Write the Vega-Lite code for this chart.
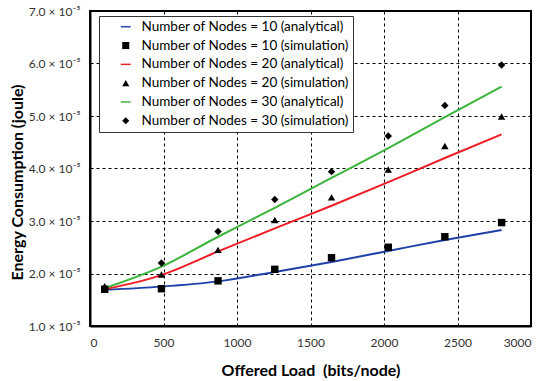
{
  "$schema": "https://vega.github.io/schema/vega-lite/v6.json",
  "autosize": {"type": "none"},
  "width": 441,
  "height": 315,
  "padding": {"left": 90, "top": 11, "right": 19, "bottom": 55},
  "background": "white",
  "config": {
    "font": "Lato",
    "view": {"stroke": "black", "strokeWidth": 2},
    "legend": {"title": null},
    "axis": {
      "domainColor": "black", "domainWidth": 2,
      "grid": true, "gridColor": "black", "gridDash": [3, 3], "gridWidth": 1, "gridOpacity": 1,
      "ticks": false,
      "labelFont": "Lato", "labelFontSize": 12, "labelColor": "#333333",
      "titleFont": "Lato", "titleFontSize": 16, "titleFontWeight": "bold", "titleColor": "black"
    }
  },
  "datasets": {
    "sim": [
      {"load": 100, "energy": 1.70e-5, "series": "Number of Nodes = 10 (simulation)"},
      {"load": 486, "energy": 1.71e-5, "series": "Number of Nodes = 10 (simulation)"},
      {"load": 871, "energy": 1.86e-5, "series": "Number of Nodes = 10 (simulation)"},
      {"load": 1257, "energy": 2.08e-5, "series": "Number of Nodes = 10 (simulation)"},
      {"load": 1643, "energy": 2.30e-5, "series": "Number of Nodes = 10 (simulation)"},
      {"load": 2029, "energy": 2.50e-5, "series": "Number of Nodes = 10 (simulation)"},
      {"load": 2414, "energy": 2.70e-5, "series": "Number of Nodes = 10 (simulation)"},
      {"load": 2800, "energy": 2.97e-5, "series": "Number of Nodes = 10 (simulation)"},
      {"load": 100, "energy": 1.76e-5, "series": "Number of Nodes = 20 (simulation)"},
      {"load": 486, "energy": 1.98e-5, "series": "Number of Nodes = 20 (simulation)"},
      {"load": 871, "energy": 2.45e-5, "series": "Number of Nodes = 20 (simulation)"},
      {"load": 1257, "energy": 3.02e-5, "series": "Number of Nodes = 20 (simulation)"},
      {"load": 1643, "energy": 3.45e-5, "series": "Number of Nodes = 20 (simulation)"},
      {"load": 2029, "energy": 3.98e-5, "series": "Number of Nodes = 20 (simulation)"},
      {"load": 2414, "energy": 4.43e-5, "series": "Number of Nodes = 20 (simulation)"},
      {"load": 2800, "energy": 4.99e-5, "series": "Number of Nodes = 20 (simulation)"},
      {"load": 100, "energy": 1.72e-5, "series": "Number of Nodes = 30 (simulation)"},
      {"load": 486, "energy": 2.20e-5, "series": "Number of Nodes = 30 (simulation)"},
      {"load": 871, "energy": 2.80e-5, "series": "Number of Nodes = 30 (simulation)"},
      {"load": 1257, "energy": 3.41e-5, "series": "Number of Nodes = 30 (simulation)"},
      {"load": 1643, "energy": 3.94e-5, "series": "Number of Nodes = 30 (simulation)"},
      {"load": 2029, "energy": 4.62e-5, "series": "Number of Nodes = 30 (simulation)"},
      {"load": 2414, "energy": 5.20e-5, "series": "Number of Nodes = 30 (simulation)"},
      {"load": 2800, "energy": 5.97e-5, "series": "Number of Nodes = 30 (simulation)"}
    ],
    "ana": [
      {"load": 100, "energy": 1.69e-5, "series": "Number of Nodes = 10 (analytical)"},
      {"load": 486, "energy": 1.75e-5, "series": "Number of Nodes = 10 (analytical)"},
      {"load": 871, "energy": 1.85e-5, "series": "Number of Nodes = 10 (analytical)"},
      {"load": 1257, "energy": 2.03e-5, "series": "Number of Nodes = 10 (analytical)"},
      {"load": 1643, "energy": 2.22e-5, "series": "Number of Nodes = 10 (analytical)"},
      {"load": 2029, "energy": 2.43e-5, "series": "Number of Nodes = 10 (analytical)"},
      {"load": 2414, "energy": 2.64e-5, "series": "Number of Nodes = 10 (analytical)"},
      {"load": 2800, "energy": 2.83e-5, "series": "Number of Nodes = 10 (analytical)"},
      {"load": 100, "energy": 1.70e-5, "series": "Number of Nodes = 20 (analytical)"},
      {"load": 486, "energy": 1.97e-5, "series": "Number of Nodes = 20 (analytical)"},
      {"load": 871, "energy": 2.42e-5, "series": "Number of Nodes = 20 (analytical)"},
      {"load": 1257, "energy": 2.86e-5, "series": "Number of Nodes = 20 (analytical)"},
      {"load": 1643, "energy": 3.29e-5, "series": "Number of Nodes = 20 (analytical)"},
      {"load": 2029, "energy": 3.74e-5, "series": "Number of Nodes = 20 (analytical)"},
      {"load": 2414, "energy": 4.20e-5, "series": "Number of Nodes = 20 (analytical)"},
      {"load": 2800, "energy": 4.65e-5, "series": "Number of Nodes = 20 (analytical)"},
      {"load": 100, "energy": 1.72e-5, "series": "Number of Nodes = 30 (analytical)"},
      {"load": 486, "energy": 2.13e-5, "series": "Number of Nodes = 30 (analytical)"},
      {"load": 871, "energy": 2.70e-5, "series": "Number of Nodes = 30 (analytical)"},
      {"load": 1257, "energy": 3.25e-5, "series": "Number of Nodes = 30 (analytical)"},
      {"load": 1643, "energy": 3.82e-5, "series": "Number of Nodes = 30 (analytical)"},
      {"load": 2029, "energy": 4.39e-5, "series": "Number of Nodes = 30 (analytical)"},
      {"load": 2414, "energy": 4.98e-5, "series": "Number of Nodes = 30 (analytical)"},
      {"load": 2800, "energy": 5.56e-5, "series": "Number of Nodes = 30 (analytical)"}
    ]
  },
  "encoding": {
    "x": {
      "field": "load", "type": "quantitative",
      "scale": {"domain": [0, 3000], "nice": false},
      "axis": {"values": [0, 500, 1000, 1500, 2000, 2500, 3000], "title": "Offered Load \u00a0(bits/node)", "labelPadding": 11, "titlePadding": 14, "format": "d"}
    },
    "y": {
      "field": "energy", "type": "quantitative",
      "scale": {"domain": [1e-5, 7e-5], "nice": false, "zero": false},
      "axis": {
        "values": [1e-5, 2e-5, 3e-5, 4e-5, 5e-5, 6e-5, 7e-5],
        "labelExpr": "format(datum.value * 1e5, '.1f') + ' \u00d7 10\u207b\u2075'",
        "title": "Energy Consumption (joule)",
        "labelPadding": 10,
        "titleX": -73, "titleY": 171, "titleAlign": "center", "titleBaseline": "middle", "titleAngle": -90
      }
    },
    "color": {
      "field": "series", "type": "nominal",
      "scale": {
        "domain": ["Number of Nodes = 10 (analytical)", "Number of Nodes = 10 (simulation)", "Number of Nodes = 20 (analytical)", "Number of Nodes = 20 (simulation)", "Number of Nodes = 30 (analytical)", "Number of Nodes = 30 (simulation)"],
        "range": ["#1f40a8", "black", "#ee1c24", "black", "#3cb43c", "black"]
      },
      "legend": {
        "title": null,
        "orient": "none", "legendX": 9, "legendY": 5,
        "padding": 4, "strokeColor": "#333333", "fillColor": "white",
        "labelFont": "Lato", "labelFontSize": 13.5, "labelColor": "black", "labelLimit": 400,
        "labelExpr": "datum.label + '\u00a0\u00a0\u00a0\u00a0\u00a0\u00a0\u00a0\u00a0'",
        "rowPadding": 3.8, "symbolOffset": 16, "labelOffset": 9,
        "symbolSize": 50, "symbolStrokeWidth": 0
      }
    }
  },
  "layer": [
    {
      "data": {"name": "ana"},
      "mark": {"type": "line", "strokeWidth": 2, "interpolate": "monotone"}
    },
    {
      "data": {"name": "sim"},
      "mark": {"type": "point", "filled": true, "opacity": 1, "size": 55},
      "encoding": {
        "shape": {
          "field": "series", "type": "nominal",
          "scale": {
            "domain": ["Number of Nodes = 10 (analytical)", "Number of Nodes = 10 (simulation)", "Number of Nodes = 20 (analytical)", "Number of Nodes = 20 (simulation)", "Number of Nodes = 30 (analytical)", "Number of Nodes = 30 (simulation)"],
            "range": ["M-1.4,-0.2H1.4V0.2H-1.4Z", "square", "M-1.4,-0.2H1.4V0.2H-1.4Z", "triangle-up", "M-1.4,-0.2H1.4V0.2H-1.4Z", "diamond"]
          },
          "legend": {"title": null}
        }
      }
    }
  ]
}
